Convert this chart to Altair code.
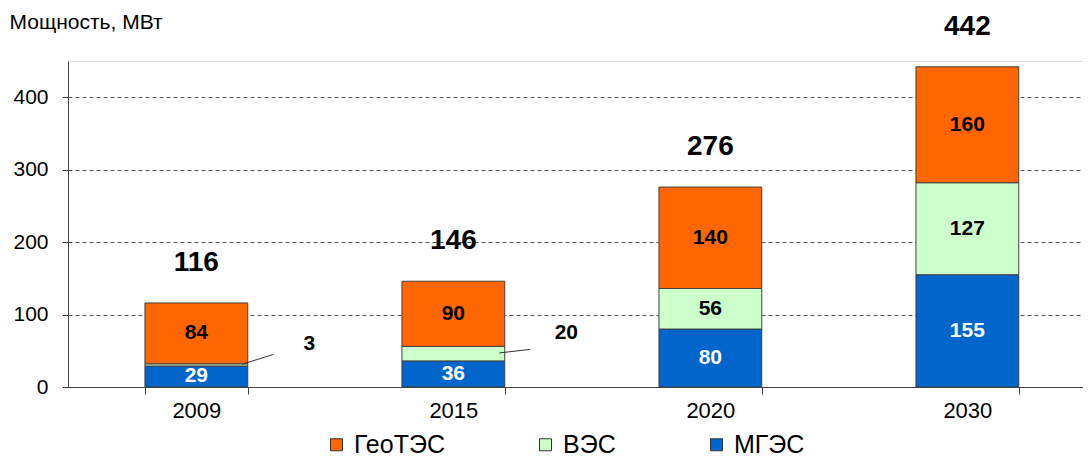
import altair as alt
import pandas as pd

years = ["2009", "2015", "2020", "2030"]
mges = [29, 36, 80, 155]
ves = [3, 20, 56, 127]
geotes = [84, 90, 140, 160]
totals = [116, 146, 276, 442]
series = ["ГеоТЭС", "ВЭС", "МГЭС"]
colors = ["#FF6600", "#CCFFCC", "#0066CC"]
y_ticks = [0, 100, 200, 300, 400]

# small segments labelled outside the bar with a leader line
callout_years = ["2009", "2015"]
callout_labels = ["3", "20"]
callout_line_from = [31.5, 47]
callout_line_to = [45, 52]
callout_text_y = [60, 74.5]

FONT = "Liberation Sans"

rows = []
for i, yr in enumerate(years):
    base = 0
    for name, vals, order in [("МГЭС", mges, 0), ("ВЭС", ves, 1), ("ГеоТЭС", geotes, 2)]:
        v = vals[i]
        rows.append(dict(year=yr, series=name, value=v, start=base, end=base + v,
                         mid=base + v / 2, order=order,
                         inside=not (name == "ВЭС" and yr in callout_years)))
        base += v
df = pd.DataFrame(rows)
df_tot = pd.DataFrame({"year": years, "total": totals})
df_call = pd.DataFrame({"year": callout_years, "label": callout_labels,
                        "y0": callout_line_from, "y1": callout_line_to,
                        "ty": callout_text_y})

x_enc = alt.X("year:N", title=None,
              scale=alt.Scale(paddingInner=0.6, paddingOuter=0.2747, align=0.545),
              axis=alt.Axis(labelAngle=0, labelFontSize=22, labelFont=FONT, labelColor="#000",
                            labelPadding=6, tickSize=7, tickBand="extent",
                            domainColor="#404040", tickColor="#404040", grid=False))
y_scale = alt.Scale(domain=[0, 450], nice=False)

bars = alt.Chart(df).mark_bar(stroke="#404040", strokeWidth=1).encode(
    x=x_enc,
    y=alt.Y("start:Q", scale=y_scale,
            axis=alt.Axis(values=y_ticks, grid=True, gridDash=[4, 3], gridColor="#555",
                          tickSize=6, labelPadding=14, labelFontSize=21, labelFont=FONT,
                          labelColor="#000", domainColor="#404040", tickColor="#404040",
                          title="Мощность, МВт", titleAngle=0, titleAlign="left",
                          titleBaseline="alphabetic", titleX=-59, titleY=-33,
                          titleFontSize=21, titleFontWeight="normal", titleFont=FONT,
                          titleColor="#000")),
    y2="end:Q",
    color=alt.Color("series:N", scale=alt.Scale(domain=series, range=colors),
                    legend=alt.Legend(title=None, orient="none", direction="horizontal",
                                      columns=3, legendX=256, legendY=371,
                                      symbolType="square", symbolSize=144,
                                      symbolStrokeColor="#333", symbolStrokeWidth=1,
                                      labelFontSize=25, labelFont=FONT, labelColor="#000",
                                      labelOffset=5, columnPadding=88, padding=0,
                                      labelLimit=300)),
)

seg_labels = alt.Chart(df).transform_filter("datum.inside").mark_text(
    fontSize=21, fontWeight="bold", font=FONT).encode(
    x="year:N",
    y=alt.Y("mid:Q", scale=y_scale),
    text="value:Q",
    color=alt.condition("datum.series == 'МГЭС'", alt.value("white"), alt.value("black")),
)

tot_labels = alt.Chart(df_tot).mark_text(
    fontSize=28, fontWeight="bold", font=FONT, dy=-40, color="black").encode(
    x="year:N", y=alt.Y("total:Q", scale=y_scale), text="total:Q")

leaders = alt.Chart(df_call).mark_rule(xOffset=46, x2Offset=77, color="#333", strokeWidth=1).encode(
    x="year:N", x2="year:N", y=alt.Y("y0:Q", scale=y_scale), y2="y1:Q")

call_text = alt.Chart(df_call).mark_text(
    fontSize=21, fontWeight="bold", font=FONT, dx=113, color="black").encode(
    x="year:N", y=alt.Y("ty:Q", scale=y_scale), text="label:N")

chart = alt.layer(bars, seg_labels, tot_labels, leaders, call_text).properties(
    width=1015, height=326,
    padding={"left": 60, "top": 53, "right": 0, "bottom": 76},
    autosize=alt.AutoSizeParams(type="none"),
).configure_view(stroke=None).configure(background="white")

chart.save("out.html", embed_options={"renderer": "svg", "actions": False})
